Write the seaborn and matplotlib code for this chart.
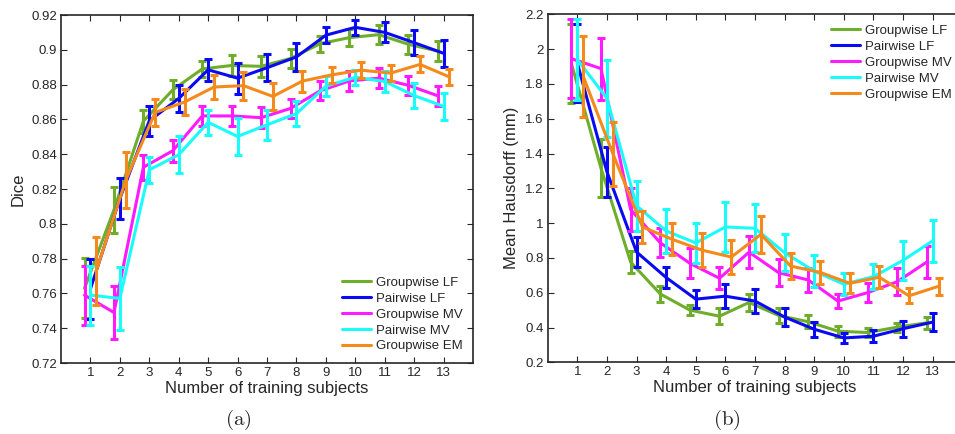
import matplotlib

matplotlib.use("Agg")
import matplotlib.pyplot as plt
import numpy as np
import pandas as pd
import seaborn as sns
from matplotlib.ticker import FuncFormatter

subjects = list(range(1, 14))
methods = ["Groupwise LF", "Pairwise LF", "Groupwise MV", "Pairwise MV", "Groupwise EM"]

# (a) Dice: mean and half-width of the error bar per training-set size
dice_mean = {
    "Groupwise LF": [0.763, 0.808, 0.859, 0.877, 0.889, 0.891, 0.8905, 0.895, 0.9035, 0.907, 0.9087, 0.9032, 0.8993],
    "Pairwise LF": [0.7626, 0.8145, 0.8592, 0.872, 0.8885, 0.8837, 0.8897, 0.8959, 0.9084, 0.9129, 0.910, 0.9041, 0.898],
    "Groupwise MV": [0.759, 0.749, 0.8325, 0.842, 0.862, 0.862, 0.861, 0.8663, 0.8764, 0.8821, 0.8837, 0.8796, 0.8736],
    "Pairwise MV": [0.759, 0.7571, 0.831, 0.8397, 0.8583, 0.8502, 0.8569, 0.8633, 0.8791, 0.8842, 0.8818, 0.8737, 0.8675],
    "Groupwise EM": [0.773, 0.825, 0.864, 0.870, 0.8786, 0.8794, 0.8732, 0.882, 0.8856, 0.8883, 0.8866, 0.8916, 0.8844],
}
dice_err = {
    "Groupwise LF": [0.0174, 0.013, 0.0066, 0.0055, 0.0045, 0.0058, 0.0062, 0.0055, 0.0047, 0.005, 0.0053, 0.0055, 0.0055],
    "Pairwise LF": [0.0174, 0.0118, 0.0086, 0.008, 0.0063, 0.009, 0.0079, 0.0079, 0.0046, 0.0043, 0.0058, 0.007, 0.0077],
    "Groupwise MV": [0.017, 0.015, 0.0072, 0.0063, 0.0058, 0.0059, 0.0062, 0.0056, 0.0055, 0.0055, 0.0058, 0.0055, 0.0058],
    "Pairwise MV": [0.017, 0.018, 0.0075, 0.0105, 0.0072, 0.0105, 0.0086, 0.007, 0.0059, 0.0043, 0.0058, 0.0072, 0.0077],
    "Groupwise EM": [0.0195, 0.016, 0.0079, 0.0074, 0.007, 0.0081, 0.0077, 0.006, 0.0048, 0.0046, 0.0048, 0.0046, 0.0045],
}

# (b) Mean Hausdorff distance (mm)
hd_mean = {
    "Groupwise LF": [1.917, 1.315, 0.776, 0.593, 0.50, 0.465, 0.544, 0.469, 0.433, 0.379, 0.371, 0.402, 0.427],
    "Pairwise LF": [1.92, 1.295, 0.834, 0.687, 0.563, 0.58, 0.552, 0.46, 0.39, 0.34, 0.35, 0.393, 0.431],
    "Groupwise MV": [1.945, 1.888, 1.078, 0.887, 0.769, 0.683, 0.833, 0.715, 0.673, 0.552, 0.60, 0.663, 0.776],
    "Pairwise MV": [1.94, 1.717, 1.10, 0.955, 0.886, 0.978, 0.97, 0.83, 0.724, 0.649, 0.692, 0.786, 0.898],
    "Groupwise EM": [1.843, 1.399, 0.978, 0.907, 0.845, 0.805, 0.935, 0.753, 0.717, 0.654, 0.689, 0.582, 0.637],
}
hd_err = {
    "Groupwise LF": [0.225, 0.167, 0.065, 0.045, 0.029, 0.045, 0.047, 0.041, 0.038, 0.032, 0.024, 0.026, 0.035],
    "Pairwise LF": [0.222, 0.143, 0.088, 0.062, 0.053, 0.07, 0.07, 0.05, 0.043, 0.027, 0.035, 0.046, 0.051],
    "Groupwise MV": [0.228, 0.178, 0.122, 0.083, 0.086, 0.063, 0.093, 0.077, 0.067, 0.041, 0.054, 0.077, 0.093],
    "Pairwise MV": [0.233, 0.22, 0.144, 0.125, 0.117, 0.142, 0.137, 0.105, 0.092, 0.062, 0.072, 0.113, 0.12],
    "Groupwise EM": [0.234, 0.184, 0.093, 0.091, 0.096, 0.098, 0.105, 0.076, 0.067, 0.057, 0.064, 0.043, 0.05],
}

palette = {
    "Groupwise LF": "#6fae2a",
    "Pairwise LF": "#0a0af2",
    "Groupwise MV": "#ff1aff",
    "Pairwise MV": "#1afcfc",
    "Groupwise EM": "#f58a1c",
}
# small horizontal shift so that the error bars do not sit on top of each other
shift = {"Groupwise LF": -0.2, "Pairwise LF": 0.0, "Groupwise MV": -0.2, "Pairwise MV": 0.0, "Groupwise EM": 0.2}

sns.set_style("ticks")
plt.rcParams["font.family"] = ["Liberation Sans", "DejaVu Sans"]
plt.rcParams["mathtext.fontset"] = "cm"


def to_frame(means, errs):
    rows = []
    for m in methods:
        for s, v, e in zip(subjects, means[m], errs[m]):
            rows.append({"method": m, "x": s + shift[m], "value": v, "err": e})
    return pd.DataFrame(rows)


def draw(ax, means, errs, ylim, yticks, ylabel, legend_loc):
    df = to_frame(means, errs)
    sns.lineplot(data=df, x="x", y="value", hue="method", hue_order=methods,
                 palette=palette, lw=2.2, sort=False, errorbar=None, ax=ax)
    # line and bars of one method share a layer, like matlab's errorbar()
    for i, (line, m) in enumerate(zip(ax.lines[:len(methods)], methods)):
        line.set_zorder(2 + i * 0.1)
        sub = df[df["method"] == m]
        ax.errorbar(sub["x"], sub["value"], yerr=sub["err"], fmt="none",
                    ecolor=palette[m], elinewidth=2.2, capsize=2.8, capthick=2.2,
                    zorder=2 + i * 0.1)
    ax.set_xlim(0, 14)
    ax.set_ylim(*ylim)
    ax.set_xticks(subjects)
    ax.set_yticks(yticks)
    ax.yaxis.set_major_formatter(FuncFormatter(lambda v, p: f"{v:g}"))
    ax.tick_params(direction="in", length=4, width=0.8, top=True, right=True,
                   labelsize=9.5, pad=3)
    for sp in ax.spines.values():
        sp.set_linewidth(1.2)
    ax.set_xlabel("Number of training subjects", fontsize=12, labelpad=1)
    ax.set_ylabel(ylabel, fontsize=12, labelpad=4)
    handles, labels = ax.get_legend_handles_labels()
    ax.legend(handles, labels, loc=legend_loc, frameon=False, fontsize=9.5,
              handlelength=2.2, handletextpad=0.35, labelspacing=0.28,
              borderaxespad=0.4)


fig = plt.figure(figsize=(9.55, 4.34), dpi=100)
ax1 = fig.add_axes([61 / 955, 1 - 363 / 434, 412 / 955, 348 / 434])
ax2 = fig.add_axes([547.7 / 955, 1 - 362.3 / 434, 414.6 / 955, 348 / 434])

draw(ax1, dice_mean, dice_err, (0.72, 0.92), np.arange(0.72, 0.9201, 0.02), "Dice", "lower right")
draw(ax2, hd_mean, hd_err, (0.2, 2.2), np.arange(0.2, 2.201, 0.2), "Mean Hausdorff (mm)", "upper right")

fig.text(238 / 955, 1 - 420 / 434, r"$\mathrm{(a)}$", ha="center", va="center", fontsize=15)
fig.text(727 / 955, 1 - 420 / 434, r"$\mathrm{(b)}$", ha="center", va="center", fontsize=15)

fig.savefig("out.png", dpi=100)
